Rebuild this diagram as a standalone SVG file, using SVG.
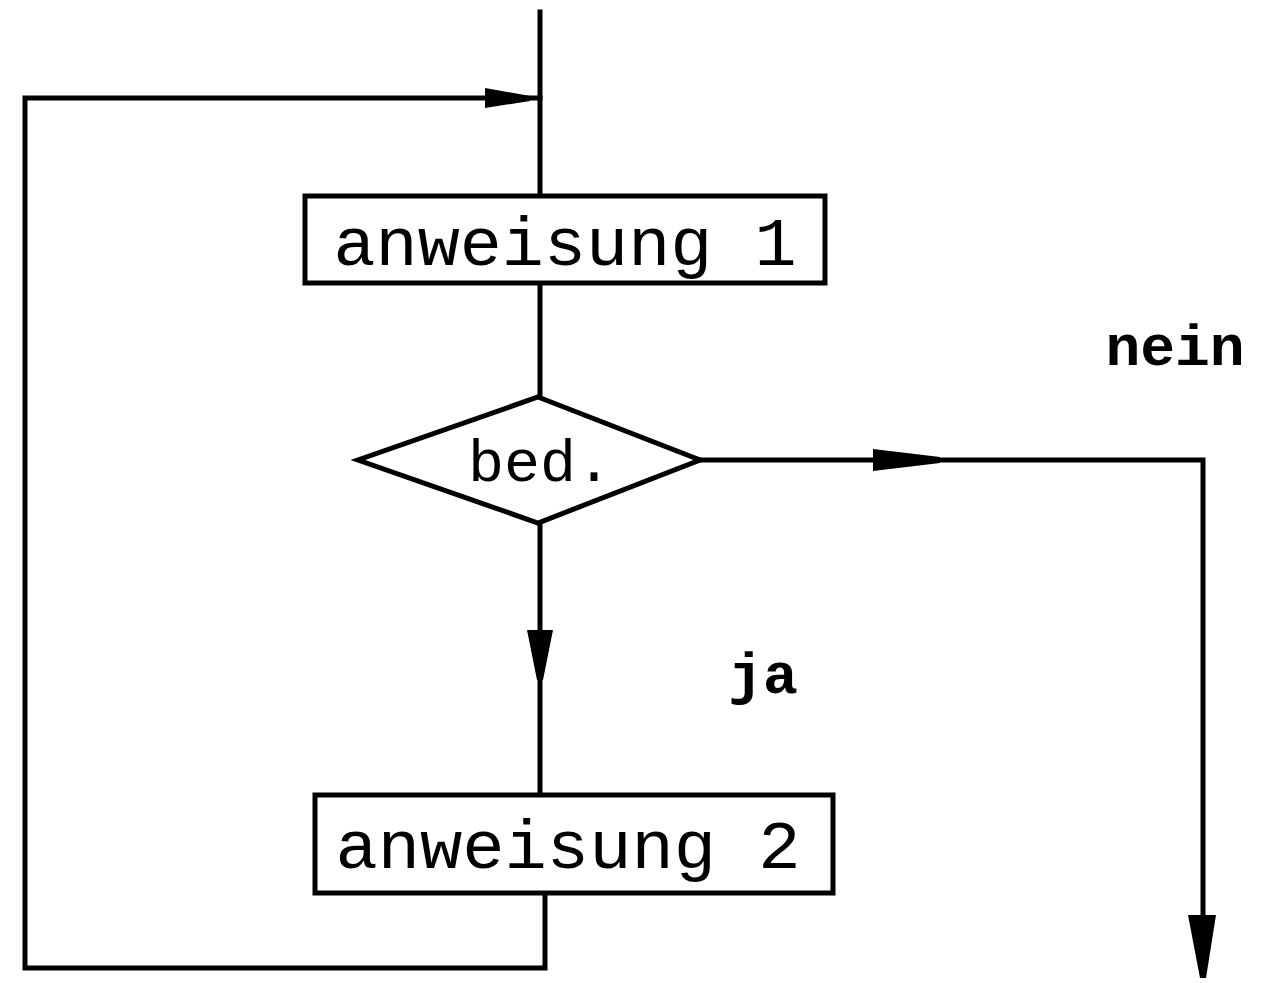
<svg xmlns="http://www.w3.org/2000/svg" width="1288" height="983" viewBox="0 0 1288 983">
<style>
.ln{fill:none;stroke:#000;stroke-width:5;stroke-linejoin:miter;stroke-linecap:square}
.box{fill:#fff;stroke:#000;stroke-width:5}
.ah{fill:#000}
.t{font-family:"Liberation Mono","DejaVu Sans Mono",monospace;fill:#000}
</style>
<rect width="1288" height="983" fill="#fff"/>
<g id="connectors">
<path class="ln" d="M540 12 V195"/>
<path class="ln" d="M540 283 V397"/>
<path class="ln" d="M540 523 V795"/>
<path class="ln" d="M545 893 V968 H25 V98 H540"/>
<path class="ln" d="M700 460 H1203 V975"/>
<polygon class="ah" points="485,88 530,96 530,101 485,108"/>
<polygon class="ah" points="873,449 940,457 940,463 873,471"/>
<polygon class="ah" points="527,630 553,630 543,680 537,680"/>
<polygon class="ah" points="1188,915 1216,915 1206,978 1200,978"/>
</g>
<g id="start"></g>
<g id="anweisung1">
<rect class="box" x="305" y="196" width="520" height="87"/>
<text class="t" x="565" y="265" font-size="68" text-anchor="middle" textLength="463" lengthAdjust="spacingAndGlyphs">anweisung 1</text>
</g>
<g id="bed">
<polygon class="box" points="538,397 700,460 538,523 358,460"/>
<text class="t" x="540" y="481" font-size="60" text-anchor="middle">bed.</text>
</g>
<g id="anweisung2">
<rect class="box" x="315" y="795" width="518" height="98"/>
<text class="t" x="568" y="868" font-size="68" text-anchor="middle" textLength="465" lengthAdjust="spacingAndGlyphs">anweisung 2</text>
</g>
<g id="labels">
<text class="t" x="1175" y="365" font-size="58" font-weight="bold" text-anchor="middle">nein</text>
<text class="t" x="763" y="693" font-size="58" font-weight="bold" text-anchor="middle">ja</text>
</g>
</svg>
